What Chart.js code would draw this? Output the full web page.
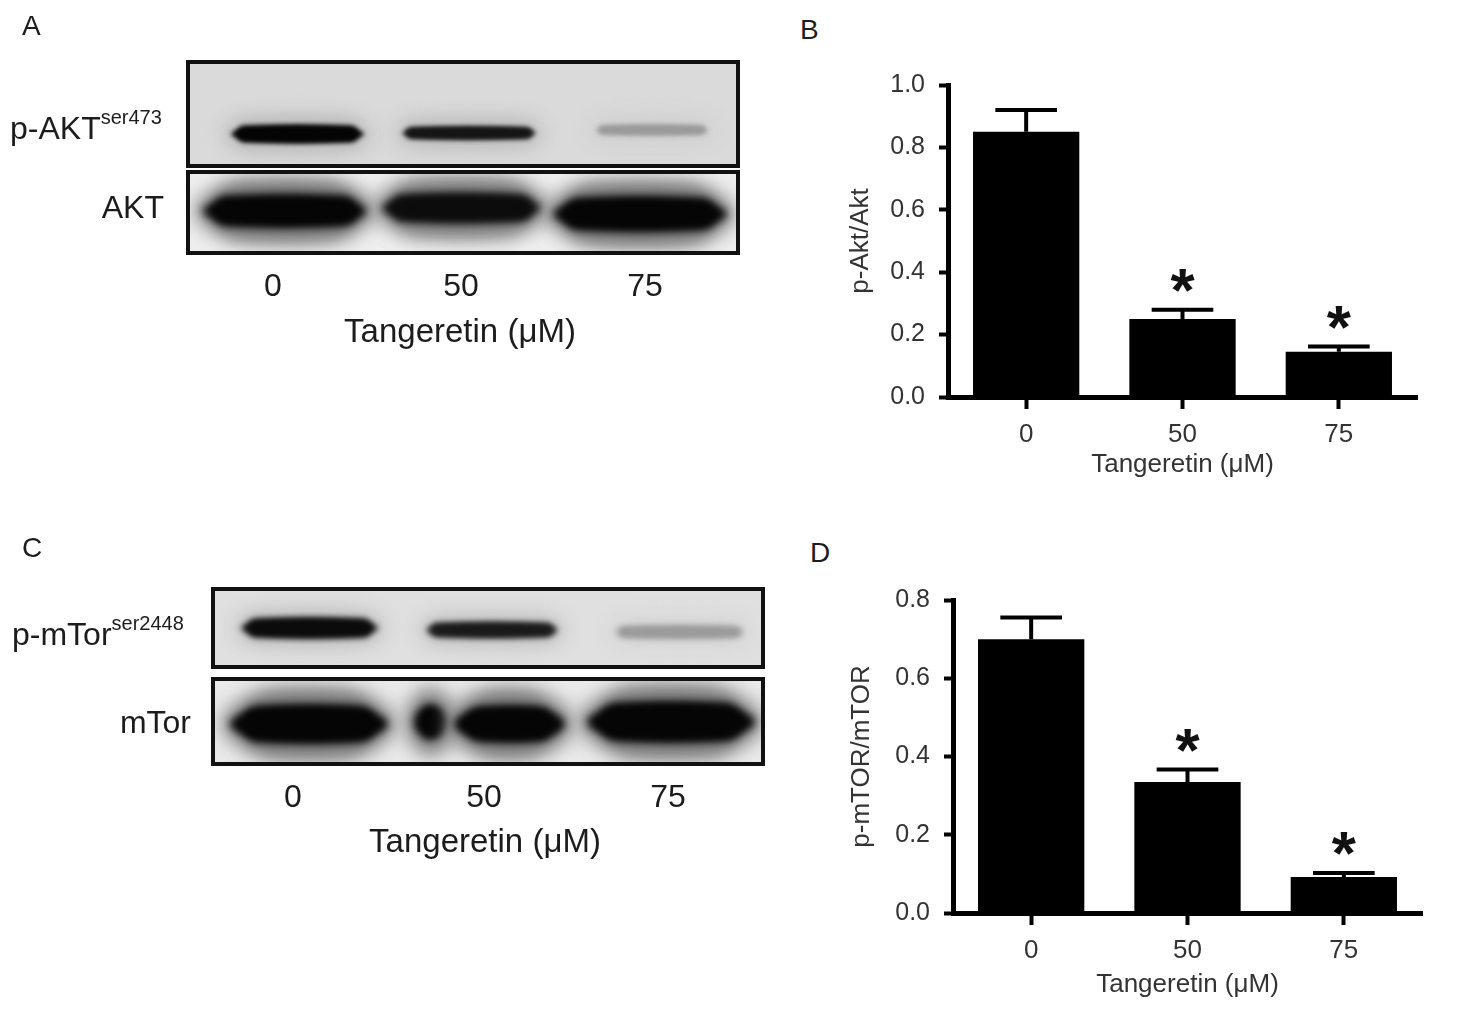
<!DOCTYPE html>
<html>
<head>
<meta charset="utf-8">
<script src="https://cdn.jsdelivr.net/npm/chart.js@4.4.1/dist/chart.umd.min.js"></script>
<style>
  html, body { margin: 0; padding: 0; background: #fff; }
  body { width: 1471px; height: 1032px; position: relative; overflow: hidden;
         font-family: "Liberation Sans", Arial, sans-serif; }
  .t { position: absolute; white-space: nowrap; line-height: 1; color: #1c1c1c; }
  .t sup { font-size: 20px; line-height: 0; vertical-align: 15px; }
  canvas { position: absolute; }
</style>
</head>
<body>
<canvas id="blots" width="800" height="1032" style="left:0;top:0"></canvas>
<canvas id="chartB" width="600" height="444" style="left:840px;top:56px"></canvas>
<canvas id="chartD" width="600" height="444" style="left:845px;top:571px"></canvas>
<script>
  'use strict';

  // doses on every x axis
  const doses = ['0', '50', '75'];

  // B: p-Akt/Akt ratio, mean and upper error
  const aktRatio = [0.85, 0.25, 0.145];
  const aktErr = [0.07, 0.03, 0.017];
  const aktSig = ['', '*', '*'];

  // D: p-mTOR/mTOR ratio, mean and upper error
  const mtorRatio = [0.70, 0.335, 0.092];
  const mtorErr = [0.055, 0.032, 0.01];
  const mtorSig = ['', '*', '*'];

  // relative band darkness of the blots, one per lane
  const pAktBands = [1.0, 0.92, 0.3];
  const aktBands = [1.0, 0.97, 1.0];
  const pMtorBands = [0.97, 0.9, 0.32];
  const mtorBands = [1.0, 1.0, 1.0];

  const FONT = '"Liberation Sans", Arial, sans-serif';

  // ---------- text outside the charts ----------
  function label(html, x, base, size, align) {
    const d = document.createElement('div');
    d.className = 't';
    d.innerHTML = html;
    d.style.fontSize = size + 'px';
    d.style.left = x + 'px';
    d.style.top = (base - 0.8465 * size) + 'px';
    const tx = align === 'center' ? '-50%' : align === 'right' ? '-100%' : '0';
    d.style.transform = 'translateX(' + tx + ')';
    document.body.appendChild(d);
  }

  label('A', 22, 36, 28, 'left');
  label('B', 800, 40, 28, 'left');
  label('C', 22, 558, 28, 'left');
  label('D', 810, 563, 28, 'left');

  label('p-AKT<sup>ser473</sup>', 10, 139, 32, 'left');
  label('AKT', 164, 218, 32, 'right');
  label('p-mTor<sup>ser2448</sup>', 12, 645, 32, 'left');
  label('mTor', 191, 733, 32, 'right');

  const laneXA = [273, 461, 645];
  const laneXC = [293, 484, 668];
  doses.forEach((d, i) => {
    label(d, laneXA[i], 296, 32, 'center');
    label(d, laneXC[i], 807, 32, 'center');
  });
  label('Tangeretin (\u03bcM)', 460, 342, 33, 'center');
  label('Tangeretin (\u03bcM)', 485, 852, 33, 'center');

  // ---------- western blot panels ----------
  const bctx = document.getElementById('blots').getContext('2d');

  function band(ctx, x1, x2, yc, h, dark, bg, blur) {
    const v = Math.round(bg * (1 - dark));
    ctx.filter = 'blur(' + blur + 'px)';
    ctx.fillStyle = 'rgb(' + v + ',' + v + ',' + v + ')';
    ctx.beginPath();
    ctx.ellipse((x1 + x2) / 2, yc, (x2 - x1) / 2, h / 2, 0, 0, Math.PI * 2);
    ctx.fill();
    ctx.beginPath();
    if (ctx.roundRect) ctx.roundRect(x1 + h * 0.3, yc - h / 2, x2 - x1 - h * 0.6, h, h / 2);
    else ctx.rect(x1 + h * 0.3, yc - h / 2, x2 - x1 - h * 0.6, h);
    ctx.fill();
  }

  function blotPanel(ctx, p) {
    const [x, y, w, h] = p.box;
    ctx.save();
    ctx.beginPath();
    ctx.rect(x, y, w, h);
    ctx.clip();
    ctx.fillStyle = 'rgb(' + p.bg + ',' + p.bg + ',' + p.bg + ')';
    ctx.fillRect(x, y, w, h);
    p.lanes.forEach((pieces, i) => {
      const dark = p.bands[i];
      pieces.forEach(([x1, x2, yc, bh]) => {
        if (p.halo) band(ctx, x1 - 8, x2 + 8, yc, bh + p.haloH, dark * p.halo, p.bg, 10);
        band(ctx, x1, x2, yc, bh, dark * 0.98, p.bg, p.blur);
      });
    });
    ctx.restore();
    ctx.filter = 'none';
    ctx.strokeStyle = '#111';
    ctx.lineWidth = 4;
    ctx.strokeRect(x + 2, y + 2, w - 4, h - 4);
  }

  [
    { box: [186, 60, 554, 108], bg: 218, bands: pAktBands, blur: 2.5, halo: 0.14, haloH: 12,
      lanes: [[[231, 364, 134, 17]], [[402, 536, 133, 12]], [[596, 708, 130, 9]]] },
    { box: [186, 170, 554, 85], bg: 238, bands: aktBands, blur: 4, halo: 0.5, haloH: 26,
      lanes: [[[203, 367, 211, 30]], [[382, 541, 208, 27]], [[553, 727, 214, 32]]] },
    { box: [211, 587, 554, 82], bg: 224, bands: pMtorBands, blur: 3, halo: 0.14, haloH: 12,
      lanes: [[[241, 378, 628, 19]], [[426, 558, 630, 14]], [[615, 744, 632, 11]]] },
    { box: [211, 677, 554, 89], bg: 234, bands: mtorBands, blur: 4, halo: 0.48, haloH: 28,
      lanes: [[[230, 388, 724, 36]], [[414, 447, 722, 32], [454, 565, 724, 34]], [[587, 755, 722, 38]]] }
  ].forEach(p => blotPanel(bctx, p));

  // ---------- bar charts ----------
  const errorBars = {
    id: 'errorBars',
    afterDatasetsDraw(chart, args, opts) {
      const { ctx, scales: { y } } = chart;
      const meta = chart.getDatasetMeta(0);
      const values = chart.data.datasets[0].data;
      ctx.save();
      ctx.strokeStyle = '#000';
      ctx.fillStyle = '#111';
      ctx.lineWidth = 4;
      meta.data.forEach((bar, i) => {
        const top = y.getPixelForValue(values[i] + opts.err[i]);
        const half = bar.width * 0.29;
        ctx.beginPath();
        ctx.moveTo(bar.x, bar.y);
        ctx.lineTo(bar.x, top);
        ctx.moveTo(bar.x - half, top);
        ctx.lineTo(bar.x + half, top);
        ctx.stroke();
        if (opts.sig[i]) {
          const size = 62;
          ctx.font = 'bold ' + size + 'px ' + FONT;
          ctx.textAlign = 'center';
          ctx.textBaseline = 'alphabetic';
          ctx.fillText(opts.sig[i], bar.x, top - 35 + 0.585 * size);
        }
      });
      ctx.restore();
    }
  };

  function barChart(id, values, err, sig, yMax, yTitle, xHeight, xTitlePad, yTitlePad) {
    return new Chart(document.getElementById(id), {
      type: 'bar',
      data: {
        labels: doses,
        datasets: [{
          data: values,
          backgroundColor: '#000',
          borderWidth: 0,
          categoryPercentage: 1,
          barPercentage: 0.68
        }]
      },
      options: {
        responsive: false,
        animation: false,
        layout: { padding: { top: 0, right: 23, left: 0, bottom: 0 } },
        plugins: {
          legend: { display: false },
          tooltip: { enabled: false },
          errorBars: { err, sig }
        },
        scales: {
          x: {
            grid: { drawOnChartArea: false, offset: false, tickLength: 12, tickWidth: 4, tickColor: '#000' },
            border: { color: '#000', width: 5 },
            ticks: { color: '#333', font: { size: 26, family: FONT }, padding: 10 },
            title: {
              display: true, text: 'Tangeretin (\u03bcM)', color: '#333',
              font: { size: 26, family: FONT }, padding: { top: 0, bottom: xTitlePad }
            },
            afterFit: s => { s.height = xHeight; }
          },
          y: {
            min: 0,
            max: yMax,
            grid: { drawOnChartArea: false, tickLength: 9, tickWidth: 4, tickColor: '#000' },
            border: { color: '#000', width: 5 },
            ticks: {
              stepSize: 0.2, color: '#333', font: { size: 25, family: FONT }, padding: 14,
              callback: v => Number(v).toFixed(1)
            },
            title: {
              display: true, text: yTitle, color: '#333',
              font: { size: 26, family: FONT }, padding: { top: yTitlePad, bottom: 0 }
            },
            afterFit: s => { s.width = 108; }
          }
        }
      },
      plugins: [errorBars]
    });
  }

  barChart('chartB', aktRatio, aktErr, aktSig, 1.0, 'p-Akt/Akt', 103, 20, 5);
  barChart('chartD', mtorRatio, mtorErr, mtorSig, 0.8, 'p-mTOR/mTOR', 102, 15, 1);
</script>
</body>
</html>
